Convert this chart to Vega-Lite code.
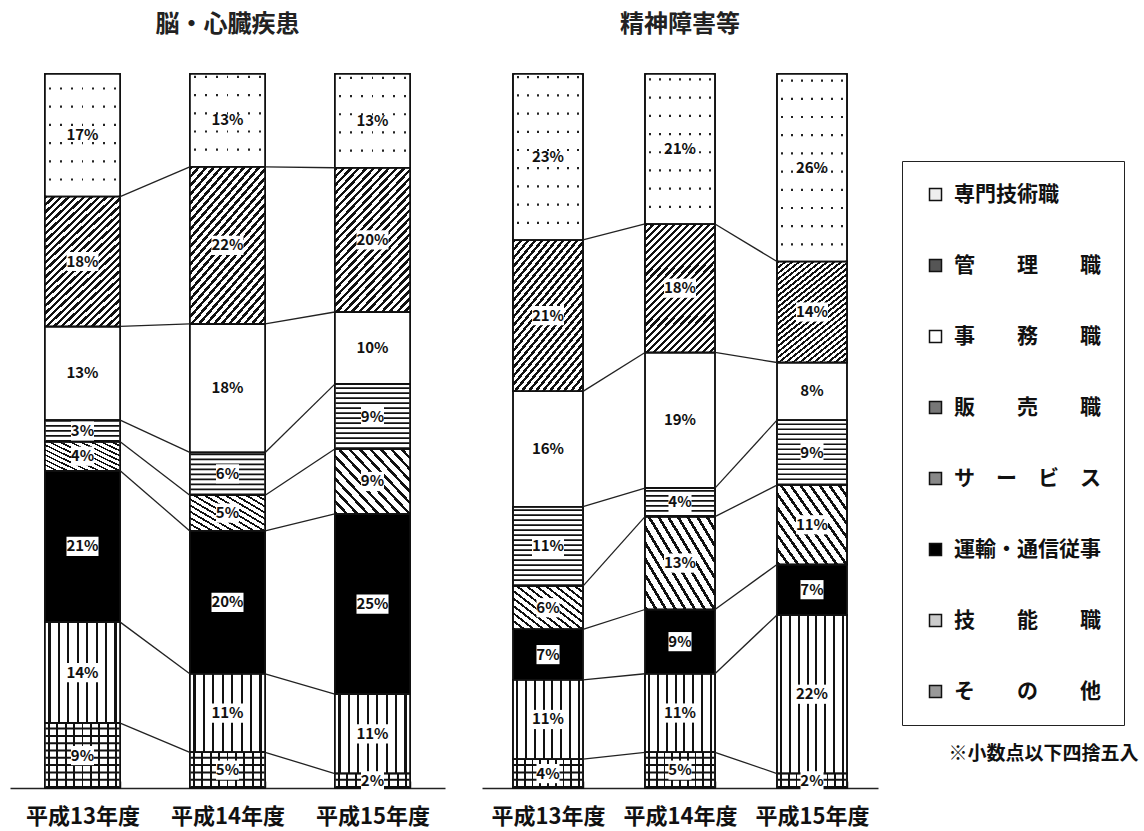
{
  "$schema": "https://vega.github.io/schema/vega-lite/v6.json",
  "background": "white",
  "padding": {"left": 10, "top": 13, "right": 0, "bottom": 4},
  "title": {"text": "※小数点以下四捨五入", "orient": "bottom", "anchor": "end", "frame": "bounds", "fontSize": 19, "fontWeight": "bold", "color": "#111", "dy": -82, "dx": 14, "offset": 0},
  "config": {
    "font": "Noto Sans CJK JP",
    "view": {"stroke": null},
    "concat": {"spacing": 37},
    "axisX": {"domainColor": "#222", "domainWidth": 1.5, "tickColor": "#222", "tickWidth": 1.5, "tickSize": -7, "tickBand": "extent", "labelFontSize": 22, "labelFontWeight": "bold", "labelColor": "#111", "labelPadding": 25, "labelAngle": 0, "title": null, "grid": false}
  },
  "datasets": {
    "jobs": [
      {"panel": "脳・心臓疾患", "year": "平成13年度", "job": "その他", "pct": 9},
      {"panel": "脳・心臓疾患", "year": "平成13年度", "job": "技能職", "pct": 14},
      {"panel": "脳・心臓疾患", "year": "平成13年度", "job": "運輸・通信従事", "pct": 21},
      {"panel": "脳・心臓疾患", "year": "平成13年度", "job": "サービス", "pct": 4},
      {"panel": "脳・心臓疾患", "year": "平成13年度", "job": "販売職", "pct": 3},
      {"panel": "脳・心臓疾患", "year": "平成13年度", "job": "事務職", "pct": 13},
      {"panel": "脳・心臓疾患", "year": "平成13年度", "job": "管理職", "pct": 18},
      {"panel": "脳・心臓疾患", "year": "平成13年度", "job": "専門技術職", "pct": 17},
      {"panel": "脳・心臓疾患", "year": "平成14年度", "job": "その他", "pct": 5},
      {"panel": "脳・心臓疾患", "year": "平成14年度", "job": "技能職", "pct": 11},
      {"panel": "脳・心臓疾患", "year": "平成14年度", "job": "運輸・通信従事", "pct": 20},
      {"panel": "脳・心臓疾患", "year": "平成14年度", "job": "サービス", "pct": 5},
      {"panel": "脳・心臓疾患", "year": "平成14年度", "job": "販売職", "pct": 6},
      {"panel": "脳・心臓疾患", "year": "平成14年度", "job": "事務職", "pct": 18},
      {"panel": "脳・心臓疾患", "year": "平成14年度", "job": "管理職", "pct": 22},
      {"panel": "脳・心臓疾患", "year": "平成14年度", "job": "専門技術職", "pct": 13},
      {"panel": "脳・心臓疾患", "year": "平成15年度", "job": "その他", "pct": 2},
      {"panel": "脳・心臓疾患", "year": "平成15年度", "job": "技能職", "pct": 11},
      {"panel": "脳・心臓疾患", "year": "平成15年度", "job": "運輸・通信従事", "pct": 25},
      {"panel": "脳・心臓疾患", "year": "平成15年度", "job": "サービス", "pct": 9},
      {"panel": "脳・心臓疾患", "year": "平成15年度", "job": "販売職", "pct": 9},
      {"panel": "脳・心臓疾患", "year": "平成15年度", "job": "事務職", "pct": 10},
      {"panel": "脳・心臓疾患", "year": "平成15年度", "job": "管理職", "pct": 20},
      {"panel": "脳・心臓疾患", "year": "平成15年度", "job": "専門技術職", "pct": 13},
      {"panel": "精神障害等", "year": "平成13年度", "job": "その他", "pct": 4},
      {"panel": "精神障害等", "year": "平成13年度", "job": "技能職", "pct": 11},
      {"panel": "精神障害等", "year": "平成13年度", "job": "運輸・通信従事", "pct": 7},
      {"panel": "精神障害等", "year": "平成13年度", "job": "サービス", "pct": 6},
      {"panel": "精神障害等", "year": "平成13年度", "job": "販売職", "pct": 11},
      {"panel": "精神障害等", "year": "平成13年度", "job": "事務職", "pct": 16},
      {"panel": "精神障害等", "year": "平成13年度", "job": "管理職", "pct": 21},
      {"panel": "精神障害等", "year": "平成13年度", "job": "専門技術職", "pct": 23},
      {"panel": "精神障害等", "year": "平成14年度", "job": "その他", "pct": 5},
      {"panel": "精神障害等", "year": "平成14年度", "job": "技能職", "pct": 11},
      {"panel": "精神障害等", "year": "平成14年度", "job": "運輸・通信従事", "pct": 9},
      {"panel": "精神障害等", "year": "平成14年度", "job": "サービス", "pct": 13},
      {"panel": "精神障害等", "year": "平成14年度", "job": "販売職", "pct": 4},
      {"panel": "精神障害等", "year": "平成14年度", "job": "事務職", "pct": 19},
      {"panel": "精神障害等", "year": "平成14年度", "job": "管理職", "pct": 18},
      {"panel": "精神障害等", "year": "平成14年度", "job": "専門技術職", "pct": 21},
      {"panel": "精神障害等", "year": "平成15年度", "job": "その他", "pct": 2},
      {"panel": "精神障害等", "year": "平成15年度", "job": "技能職", "pct": 22},
      {"panel": "精神障害等", "year": "平成15年度", "job": "運輸・通信従事", "pct": 7},
      {"panel": "精神障害等", "year": "平成15年度", "job": "サービス", "pct": 11},
      {"panel": "精神障害等", "year": "平成15年度", "job": "販売職", "pct": 9},
      {"panel": "精神障害等", "year": "平成15年度", "job": "事務職", "pct": 8},
      {"panel": "精神障害等", "year": "平成15年度", "job": "管理職", "pct": 14},
      {"panel": "精神障害等", "year": "平成15年度", "job": "専門技術職", "pct": 26}
    ]
  },
  "data": {"name": "jobs"},
  "transform": [
    {"stack": "pct", "groupby": ["panel", "year"], "offset": "normalize", "as": ["y0", "y1"]},
    {"window": [{"op": "lead", "field": "y1", "as": "ny"}, {"op": "lead", "field": "year", "as": "nyear"}], "groupby": ["panel", "job"], "sort": [{"field": "year", "order": "ascending"}]},
    {"calculate": "(datum.y0 + datum.y1) / 2", "as": "mid"},
    {"calculate": "datum.pct + '%'", "as": "lbl"}
  ],
  "hconcat": [
    {
      "title": {"text": "脳・心臓疾患", "fontSize": 24, "fontWeight": "bold", "color": "#222", "offset": 36},
      "width": 435,
      "height": 714,
      "transform": [{"filter": "datum.panel === '脳・心臓疾患'"}],
      "encoding": {"x": {"field": "year", "type": "nominal", "title": null, "scale": {"paddingInner": 0.48, "paddingOuter": 0.24}}},
      "layer": [
        {
          "encoding": {"y": {"field": "y0", "type": "quantitative", "scale": {"domain": [0, 1], "nice": false}, "axis": null}, "y2": {"field": "y1"}},
          "layer": [
            {"mark": {"type": "bar", "stroke": "#111", "strokeWidth": 1.5}, "encoding": {"color": {"field": "job", "type": "nominal", "scale": {"domain": ["専門技術職", "管理職", "事務職", "販売職", "サービス", "運輸・通信従事", "技能職", "その他"], "range": ["#eeeeee", "#555555", "#ffffff", "#777777", "#888888", "#000000", "#cccccc", "#999999"]}, "legend": {"orient": "none", "legendX": 892, "legendY": 87, "title": null, "strokeColor": "#222", "padding": 23, "rowPadding": 49, "symbolType": "square", "symbolSize": 144, "symbolStrokeColor": "#111", "symbolStrokeWidth": 1.5, "labelFontSize": 21, "labelFontWeight": "bold", "labelColor": "#111", "labelOffset": 8, "labelLimit": 300, "labelExpr": "datum.label === '管理職' ? '管\u3000\u3000理\u3000\u3000職' : datum.label === '事務職' ? '事\u3000\u3000務\u3000\u3000職' : datum.label === '販売職' ? '販\u3000\u3000売\u3000\u3000職' : datum.label === 'サービス' ? 'サ\u3000ー\u3000ビ\u3000ス' : datum.label === '技能職' ? '技\u3000\u3000能\u3000\u3000職' : datum.label === 'その他' ? 'そ\u3000\u3000の\u3000\u3000他' : datum.label"}}}},
            {"transform": [{"filter": "datum.job === '専門技術職'"}], "mark": {"type": "bar", "stroke": "#111", "strokeWidth": 1.5, "fill": {"gradient": "linear", "x1": 0, "y1": 0, "x2": 1, "y2": 0, "stops": [
                {"offset": 0, "color": "#fff"},
                {"offset": 0.0584, "color": "#fff"}, {"offset": 0.0584, "color": "#222"}, {"offset": 0.0844, "color": "#222"}, {"offset": 0.0844, "color": "#fff"},
                {"offset": 0.2013, "color": "#fff"}, {"offset": 0.2013, "color": "#222"}, {"offset": 0.2273, "color": "#222"}, {"offset": 0.2273, "color": "#fff"},
                {"offset": 0.3441, "color": "#fff"}, {"offset": 0.3441, "color": "#222"}, {"offset": 0.3701, "color": "#222"}, {"offset": 0.3701, "color": "#fff"},
                {"offset": 0.487, "color": "#fff"}, {"offset": 0.487, "color": "#222"}, {"offset": 0.513, "color": "#222"}, {"offset": 0.513, "color": "#fff"},
                {"offset": 0.6299, "color": "#fff"}, {"offset": 0.6299, "color": "#222"}, {"offset": 0.6559, "color": "#222"}, {"offset": 0.6559, "color": "#fff"},
                {"offset": 0.7727, "color": "#fff"}, {"offset": 0.7727, "color": "#222"}, {"offset": 0.7987, "color": "#222"}, {"offset": 0.7987, "color": "#fff"},
                {"offset": 0.9156, "color": "#fff"}, {"offset": 0.9156, "color": "#222"}, {"offset": 0.9416, "color": "#222"}, {"offset": 0.9416, "color": "#fff"},
                {"offset": 1, "color": "#fff"}]}}},
            {"transform": [{"filter": "datum.job === '管理職'"}], "mark": {"type": "bar", "stroke": "#111", "strokeWidth": 1.5, "fill": {"gradient": "linear", "x1": 0, "y1": 0, "x2": 0.66, "y2": 1.19, "stops": [
                {"offset": 0, "color": "#111"}, {"offset": 0.016, "color": "#111"}, {"offset": 0.016, "color": "#fff"}, {"offset": 0.0357, "color": "#fff"},
                {"offset": 0.0357, "color": "#111"}, {"offset": 0.0517, "color": "#111"}, {"offset": 0.0517, "color": "#fff"}, {"offset": 0.0714, "color": "#fff"},
                {"offset": 0.0714, "color": "#111"}, {"offset": 0.0874, "color": "#111"}, {"offset": 0.0874, "color": "#fff"}, {"offset": 0.1071, "color": "#fff"},
                {"offset": 0.1071, "color": "#111"}, {"offset": 0.1231, "color": "#111"}, {"offset": 0.1231, "color": "#fff"}, {"offset": 0.1429, "color": "#fff"},
                {"offset": 0.1429, "color": "#111"}, {"offset": 0.1589, "color": "#111"}, {"offset": 0.1589, "color": "#fff"}, {"offset": 0.1786, "color": "#fff"},
                {"offset": 0.1786, "color": "#111"}, {"offset": 0.1946, "color": "#111"}, {"offset": 0.1946, "color": "#fff"}, {"offset": 0.2143, "color": "#fff"},
                {"offset": 0.2143, "color": "#111"}, {"offset": 0.2303, "color": "#111"}, {"offset": 0.2303, "color": "#fff"}, {"offset": 0.25, "color": "#fff"},
                {"offset": 0.25, "color": "#111"}, {"offset": 0.266, "color": "#111"}, {"offset": 0.266, "color": "#fff"}, {"offset": 0.2857, "color": "#fff"},
                {"offset": 0.2857, "color": "#111"}, {"offset": 0.3017, "color": "#111"}, {"offset": 0.3017, "color": "#fff"}, {"offset": 0.3214, "color": "#fff"},
                {"offset": 0.3214, "color": "#111"}, {"offset": 0.3374, "color": "#111"}, {"offset": 0.3374, "color": "#fff"}, {"offset": 0.3571, "color": "#fff"},
                {"offset": 0.3571, "color": "#111"}, {"offset": 0.3731, "color": "#111"}, {"offset": 0.3731, "color": "#fff"}, {"offset": 0.3929, "color": "#fff"},
                {"offset": 0.3929, "color": "#111"}, {"offset": 0.4089, "color": "#111"}, {"offset": 0.4089, "color": "#fff"}, {"offset": 0.4286, "color": "#fff"},
                {"offset": 0.4286, "color": "#111"}, {"offset": 0.4446, "color": "#111"}, {"offset": 0.4446, "color": "#fff"}, {"offset": 0.4643, "color": "#fff"},
                {"offset": 0.4643, "color": "#111"}, {"offset": 0.4803, "color": "#111"}, {"offset": 0.4803, "color": "#fff"}, {"offset": 0.5, "color": "#fff"},
                {"offset": 0.5, "color": "#111"}, {"offset": 0.516, "color": "#111"}, {"offset": 0.516, "color": "#fff"}, {"offset": 0.5357, "color": "#fff"},
                {"offset": 0.5357, "color": "#111"}, {"offset": 0.5517, "color": "#111"}, {"offset": 0.5517, "color": "#fff"}, {"offset": 0.5714, "color": "#fff"},
                {"offset": 0.5714, "color": "#111"}, {"offset": 0.5874, "color": "#111"}, {"offset": 0.5874, "color": "#fff"}, {"offset": 0.6071, "color": "#fff"},
                {"offset": 0.6071, "color": "#111"}, {"offset": 0.6231, "color": "#111"}, {"offset": 0.6231, "color": "#fff"}, {"offset": 0.6429, "color": "#fff"},
                {"offset": 0.6429, "color": "#111"}, {"offset": 0.6589, "color": "#111"}, {"offset": 0.6589, "color": "#fff"}, {"offset": 0.6786, "color": "#fff"},
                {"offset": 0.6786, "color": "#111"}, {"offset": 0.6946, "color": "#111"}, {"offset": 0.6946, "color": "#fff"}, {"offset": 0.7143, "color": "#fff"},
                {"offset": 0.7143, "color": "#111"}, {"offset": 0.7303, "color": "#111"}, {"offset": 0.7303, "color": "#fff"}, {"offset": 0.75, "color": "#fff"},
                {"offset": 0.75, "color": "#111"}, {"offset": 0.766, "color": "#111"}, {"offset": 0.766, "color": "#fff"}, {"offset": 0.7857, "color": "#fff"},
                {"offset": 0.7857, "color": "#111"}, {"offset": 0.8017, "color": "#111"}, {"offset": 0.8017, "color": "#fff"}, {"offset": 0.8214, "color": "#fff"},
                {"offset": 0.8214, "color": "#111"}, {"offset": 0.8374, "color": "#111"}, {"offset": 0.8374, "color": "#fff"}, {"offset": 0.8571, "color": "#fff"},
                {"offset": 0.8571, "color": "#111"}, {"offset": 0.8731, "color": "#111"}, {"offset": 0.8731, "color": "#fff"}, {"offset": 0.8929, "color": "#fff"},
                {"offset": 0.8929, "color": "#111"}, {"offset": 0.9089, "color": "#111"}, {"offset": 0.9089, "color": "#fff"}, {"offset": 0.9286, "color": "#fff"},
                {"offset": 0.9286, "color": "#111"}, {"offset": 0.9446, "color": "#111"}, {"offset": 0.9446, "color": "#fff"}, {"offset": 0.9643, "color": "#fff"},
                {"offset": 0.9643, "color": "#111"}, {"offset": 0.9803, "color": "#111"}, {"offset": 0.9803, "color": "#fff"}, {"offset": 1, "color": "#fff"}]}}},
            {"transform": [{"filter": "datum.job === '販売職'"}], "mark": {"type": "bar", "stroke": "#111", "strokeWidth": 1.5, "fill": "#ffffff"}},
            {"transform": [{"filter": "datum.job === 'サービス'"}], "mark": {"type": "bar", "stroke": "#111", "strokeWidth": 1.5, "fill": {"gradient": "linear", "x1": 0, "y1": 1, "x2": 1.098, "y2": 0.122, "stops": [
                {"offset": 0, "color": "#111"}, {"offset": 0.0254, "color": "#111"}, {"offset": 0.0254, "color": "#fff"}, {"offset": 0.0769, "color": "#fff"},
                {"offset": 0.0769, "color": "#111"}, {"offset": 0.1023, "color": "#111"}, {"offset": 0.1023, "color": "#fff"}, {"offset": 0.1538, "color": "#fff"},
                {"offset": 0.1538, "color": "#111"}, {"offset": 0.1792, "color": "#111"}, {"offset": 0.1792, "color": "#fff"}, {"offset": 0.2308, "color": "#fff"},
                {"offset": 0.2308, "color": "#111"}, {"offset": 0.2562, "color": "#111"}, {"offset": 0.2562, "color": "#fff"}, {"offset": 0.3077, "color": "#fff"},
                {"offset": 0.3077, "color": "#111"}, {"offset": 0.3331, "color": "#111"}, {"offset": 0.3331, "color": "#fff"}, {"offset": 0.3846, "color": "#fff"},
                {"offset": 0.3846, "color": "#111"}, {"offset": 0.41, "color": "#111"}, {"offset": 0.41, "color": "#fff"}, {"offset": 0.4615, "color": "#fff"},
                {"offset": 0.4615, "color": "#111"}, {"offset": 0.4869, "color": "#111"}, {"offset": 0.4869, "color": "#fff"}, {"offset": 0.5385, "color": "#fff"},
                {"offset": 0.5385, "color": "#111"}, {"offset": 0.5639, "color": "#111"}, {"offset": 0.5639, "color": "#fff"}, {"offset": 0.6154, "color": "#fff"},
                {"offset": 0.6154, "color": "#111"}, {"offset": 0.6408, "color": "#111"}, {"offset": 0.6408, "color": "#fff"}, {"offset": 0.6923, "color": "#fff"},
                {"offset": 0.6923, "color": "#111"}, {"offset": 0.7177, "color": "#111"}, {"offset": 0.7177, "color": "#fff"}, {"offset": 0.7692, "color": "#fff"},
                {"offset": 0.7692, "color": "#111"}, {"offset": 0.7946, "color": "#111"}, {"offset": 0.7946, "color": "#fff"}, {"offset": 0.8462, "color": "#fff"},
                {"offset": 0.8462, "color": "#111"}, {"offset": 0.8716, "color": "#111"}, {"offset": 0.8716, "color": "#fff"}, {"offset": 0.9231, "color": "#fff"},
                {"offset": 0.9231, "color": "#111"}, {"offset": 0.9485, "color": "#111"}, {"offset": 0.9485, "color": "#fff"}, {"offset": 1, "color": "#fff"}]}}},
            {"transform": [{"filter": "datum.job === '技能職'"}], "mark": {"type": "bar", "stroke": "#111", "strokeWidth": 1.5, "fill": {"gradient": "linear", "x1": 0, "y1": 0, "x2": 1, "y2": 0, "stops": [
                {"offset": 0, "color": "#fff"},
                {"offset": 0.0485, "color": "#fff"}, {"offset": 0.0485, "color": "#111"}, {"offset": 0.0765, "color": "#111"}, {"offset": 0.0765, "color": "#fff"},
                {"offset": 0.1735, "color": "#fff"}, {"offset": 0.1735, "color": "#111"}, {"offset": 0.2015, "color": "#111"}, {"offset": 0.2015, "color": "#fff"},
                {"offset": 0.2985, "color": "#fff"}, {"offset": 0.2985, "color": "#111"}, {"offset": 0.3265, "color": "#111"}, {"offset": 0.3265, "color": "#fff"},
                {"offset": 0.4235, "color": "#fff"}, {"offset": 0.4235, "color": "#111"}, {"offset": 0.4515, "color": "#111"}, {"offset": 0.4515, "color": "#fff"},
                {"offset": 0.5485, "color": "#fff"}, {"offset": 0.5485, "color": "#111"}, {"offset": 0.5765, "color": "#111"}, {"offset": 0.5765, "color": "#fff"},
                {"offset": 0.6735, "color": "#fff"}, {"offset": 0.6735, "color": "#111"}, {"offset": 0.7015, "color": "#111"}, {"offset": 0.7015, "color": "#fff"},
                {"offset": 0.7985, "color": "#fff"}, {"offset": 0.7985, "color": "#111"}, {"offset": 0.8265, "color": "#111"}, {"offset": 0.8265, "color": "#fff"},
                {"offset": 0.9235, "color": "#fff"}, {"offset": 0.9235, "color": "#111"}, {"offset": 0.9515, "color": "#111"}, {"offset": 0.9515, "color": "#fff"},
                {"offset": 1, "color": "#fff"}]}}},
            {"transform": [{"filter": "datum.job === 'その他'"}], "mark": {"type": "bar", "stroke": "#111", "strokeWidth": 1.5, "fill": {"gradient": "linear", "x1": 0, "y1": 0, "x2": 1, "y2": 0, "stops": [
                {"offset": 0, "color": "#fff"},
                {"offset": 0.0426, "color": "#fff"}, {"offset": 0.0426, "color": "#111"}, {"offset": 0.0686, "color": "#111"}, {"offset": 0.0686, "color": "#fff"},
                {"offset": 0.1537, "color": "#fff"}, {"offset": 0.1537, "color": "#111"}, {"offset": 0.1797, "color": "#111"}, {"offset": 0.1797, "color": "#fff"},
                {"offset": 0.2648, "color": "#fff"}, {"offset": 0.2648, "color": "#111"}, {"offset": 0.2908, "color": "#111"}, {"offset": 0.2908, "color": "#fff"},
                {"offset": 0.3759, "color": "#fff"}, {"offset": 0.3759, "color": "#111"}, {"offset": 0.4019, "color": "#111"}, {"offset": 0.4019, "color": "#fff"},
                {"offset": 0.487, "color": "#fff"}, {"offset": 0.487, "color": "#111"}, {"offset": 0.513, "color": "#111"}, {"offset": 0.513, "color": "#fff"},
                {"offset": 0.5981, "color": "#fff"}, {"offset": 0.5981, "color": "#111"}, {"offset": 0.6241, "color": "#111"}, {"offset": 0.6241, "color": "#fff"},
                {"offset": 0.7092, "color": "#fff"}, {"offset": 0.7092, "color": "#111"}, {"offset": 0.7352, "color": "#111"}, {"offset": 0.7352, "color": "#fff"},
                {"offset": 0.8203, "color": "#fff"}, {"offset": 0.8203, "color": "#111"}, {"offset": 0.8463, "color": "#111"}, {"offset": 0.8463, "color": "#fff"},
                {"offset": 0.9314, "color": "#fff"}, {"offset": 0.9314, "color": "#111"}, {"offset": 0.9574, "color": "#111"}, {"offset": 0.9574, "color": "#fff"},
                {"offset": 1, "color": "#fff"}]}}},
            {"transform": [{"filter": "datum.job === '専門技術職'"}], "mark": {"type": "rule", "clip": true, "stroke": "#ffffff", "strokeWidth": 72.5, "strokeDash": [16, 2.2]}},
            {"transform": [{"filter": "datum.job === '販売職'"}], "mark": {"type": "rule", "clip": true, "stroke": "#111", "strokeWidth": 74, "strokeDash": [1.7, 3.3]}},
            {"transform": [{"filter": "datum.job === 'その他'"}], "mark": {"type": "rule", "clip": true, "stroke": "#111", "strokeWidth": 74, "strokeDash": [2, 5.3]}},
            {"mark": {"type": "bar", "filled": false, "stroke": "#111", "strokeWidth": 1.5}}
          ]
        },
        {
          "transform": [{"filter": "datum.nyear != null && datum.y1 < 0.999"}],
          "mark": {"type": "rule", "stroke": "#222", "strokeWidth": 1.3},
          "encoding": {"x": {"field": "year", "type": "nominal", "bandPosition": 1}, "x2": {"field": "nyear", "bandPosition": 0}, "y": {"field": "y1", "type": "quantitative", "axis": null}, "y2": {"field": "ny"}}
        },
        {
          "transform": [{"filter": "datum.job !== '専門技術職' && datum.job !== '事務職'"}],
          "mark": {"type": "point", "filled": true, "fill": "white", "strokeWidth": 0, "opacity": 1},
          "encoding": {"y": {"field": "mid", "type": "quantitative", "axis": null}, "shape": {"condition": {"test": "datum.pct < 10", "value": "M-0.72,-0.6H0.72V0.6H-0.72Z"}, "value": "M-1,-0.6H1V0.6H-1Z"}, "size": {"value": 1024}}
        },
        {
          "mark": {"type": "text", "fontSize": 15, "fontWeight": "bold", "fill": "#111"},
          "encoding": {"y": {"field": "mid", "type": "quantitative", "axis": null}, "text": {"field": "lbl"}}
        }
      ]
    },
    {
      "title": {"text": "精神障害等", "fontSize": 24, "fontWeight": "bold", "color": "#222", "offset": 36},
      "width": 396,
      "height": 714,
      "transform": [{"filter": "datum.panel === '精神障害等'"}],
      "encoding": {"x": {"field": "year", "type": "nominal", "title": null, "scale": {"paddingInner": 0.47, "paddingOuter": 0.235}}},
      "layer": [
        {
          "encoding": {"y": {"field": "y0", "type": "quantitative", "scale": {"domain": [0, 1], "nice": false}, "axis": null}, "y2": {"field": "y1"}},
          "layer": [
            {"mark": {"type": "bar", "stroke": "#111", "strokeWidth": 1.5}, "encoding": {"color": {"field": "job", "type": "nominal"}}},
            {"transform": [{"filter": "datum.job === '専門技術職'"}], "mark": {"type": "bar", "stroke": "#111", "strokeWidth": 1.5, "fill": {"gradient": "linear", "x1": 0, "y1": 0, "x2": 1, "y2": 0, "stops": [
                {"offset": 0, "color": "#fff"},
                {"offset": 0.0584, "color": "#fff"}, {"offset": 0.0584, "color": "#222"}, {"offset": 0.0844, "color": "#222"}, {"offset": 0.0844, "color": "#fff"},
                {"offset": 0.2013, "color": "#fff"}, {"offset": 0.2013, "color": "#222"}, {"offset": 0.2273, "color": "#222"}, {"offset": 0.2273, "color": "#fff"},
                {"offset": 0.3441, "color": "#fff"}, {"offset": 0.3441, "color": "#222"}, {"offset": 0.3701, "color": "#222"}, {"offset": 0.3701, "color": "#fff"},
                {"offset": 0.487, "color": "#fff"}, {"offset": 0.487, "color": "#222"}, {"offset": 0.513, "color": "#222"}, {"offset": 0.513, "color": "#fff"},
                {"offset": 0.6299, "color": "#fff"}, {"offset": 0.6299, "color": "#222"}, {"offset": 0.6559, "color": "#222"}, {"offset": 0.6559, "color": "#fff"},
                {"offset": 0.7727, "color": "#fff"}, {"offset": 0.7727, "color": "#222"}, {"offset": 0.7987, "color": "#222"}, {"offset": 0.7987, "color": "#fff"},
                {"offset": 0.9156, "color": "#fff"}, {"offset": 0.9156, "color": "#222"}, {"offset": 0.9416, "color": "#222"}, {"offset": 0.9416, "color": "#fff"},
                {"offset": 1, "color": "#fff"}]}}},
            {"transform": [{"filter": "datum.job === '管理職'"}], "mark": {"type": "bar", "stroke": "#111", "strokeWidth": 1.5, "fill": {"gradient": "linear", "x1": 0, "y1": 0, "x2": 0.66, "y2": 1.19, "stops": [
                {"offset": 0, "color": "#111"}, {"offset": 0.016, "color": "#111"}, {"offset": 0.016, "color": "#fff"}, {"offset": 0.0357, "color": "#fff"},
                {"offset": 0.0357, "color": "#111"}, {"offset": 0.0517, "color": "#111"}, {"offset": 0.0517, "color": "#fff"}, {"offset": 0.0714, "color": "#fff"},
                {"offset": 0.0714, "color": "#111"}, {"offset": 0.0874, "color": "#111"}, {"offset": 0.0874, "color": "#fff"}, {"offset": 0.1071, "color": "#fff"},
                {"offset": 0.1071, "color": "#111"}, {"offset": 0.1231, "color": "#111"}, {"offset": 0.1231, "color": "#fff"}, {"offset": 0.1429, "color": "#fff"},
                {"offset": 0.1429, "color": "#111"}, {"offset": 0.1589, "color": "#111"}, {"offset": 0.1589, "color": "#fff"}, {"offset": 0.1786, "color": "#fff"},
                {"offset": 0.1786, "color": "#111"}, {"offset": 0.1946, "color": "#111"}, {"offset": 0.1946, "color": "#fff"}, {"offset": 0.2143, "color": "#fff"},
                {"offset": 0.2143, "color": "#111"}, {"offset": 0.2303, "color": "#111"}, {"offset": 0.2303, "color": "#fff"}, {"offset": 0.25, "color": "#fff"},
                {"offset": 0.25, "color": "#111"}, {"offset": 0.266, "color": "#111"}, {"offset": 0.266, "color": "#fff"}, {"offset": 0.2857, "color": "#fff"},
                {"offset": 0.2857, "color": "#111"}, {"offset": 0.3017, "color": "#111"}, {"offset": 0.3017, "color": "#fff"}, {"offset": 0.3214, "color": "#fff"},
                {"offset": 0.3214, "color": "#111"}, {"offset": 0.3374, "color": "#111"}, {"offset": 0.3374, "color": "#fff"}, {"offset": 0.3571, "color": "#fff"},
                {"offset": 0.3571, "color": "#111"}, {"offset": 0.3731, "color": "#111"}, {"offset": 0.3731, "color": "#fff"}, {"offset": 0.3929, "color": "#fff"},
                {"offset": 0.3929, "color": "#111"}, {"offset": 0.4089, "color": "#111"}, {"offset": 0.4089, "color": "#fff"}, {"offset": 0.4286, "color": "#fff"},
                {"offset": 0.4286, "color": "#111"}, {"offset": 0.4446, "color": "#111"}, {"offset": 0.4446, "color": "#fff"}, {"offset": 0.4643, "color": "#fff"},
                {"offset": 0.4643, "color": "#111"}, {"offset": 0.4803, "color": "#111"}, {"offset": 0.4803, "color": "#fff"}, {"offset": 0.5, "color": "#fff"},
                {"offset": 0.5, "color": "#111"}, {"offset": 0.516, "color": "#111"}, {"offset": 0.516, "color": "#fff"}, {"offset": 0.5357, "color": "#fff"},
                {"offset": 0.5357, "color": "#111"}, {"offset": 0.5517, "color": "#111"}, {"offset": 0.5517, "color": "#fff"}, {"offset": 0.5714, "color": "#fff"},
                {"offset": 0.5714, "color": "#111"}, {"offset": 0.5874, "color": "#111"}, {"offset": 0.5874, "color": "#fff"}, {"offset": 0.6071, "color": "#fff"},
                {"offset": 0.6071, "color": "#111"}, {"offset": 0.6231, "color": "#111"}, {"offset": 0.6231, "color": "#fff"}, {"offset": 0.6429, "color": "#fff"},
                {"offset": 0.6429, "color": "#111"}, {"offset": 0.6589, "color": "#111"}, {"offset": 0.6589, "color": "#fff"}, {"offset": 0.6786, "color": "#fff"},
                {"offset": 0.6786, "color": "#111"}, {"offset": 0.6946, "color": "#111"}, {"offset": 0.6946, "color": "#fff"}, {"offset": 0.7143, "color": "#fff"},
                {"offset": 0.7143, "color": "#111"}, {"offset": 0.7303, "color": "#111"}, {"offset": 0.7303, "color": "#fff"}, {"offset": 0.75, "color": "#fff"},
                {"offset": 0.75, "color": "#111"}, {"offset": 0.766, "color": "#111"}, {"offset": 0.766, "color": "#fff"}, {"offset": 0.7857, "color": "#fff"},
                {"offset": 0.7857, "color": "#111"}, {"offset": 0.8017, "color": "#111"}, {"offset": 0.8017, "color": "#fff"}, {"offset": 0.8214, "color": "#fff"},
                {"offset": 0.8214, "color": "#111"}, {"offset": 0.8374, "color": "#111"}, {"offset": 0.8374, "color": "#fff"}, {"offset": 0.8571, "color": "#fff"},
                {"offset": 0.8571, "color": "#111"}, {"offset": 0.8731, "color": "#111"}, {"offset": 0.8731, "color": "#fff"}, {"offset": 0.8929, "color": "#fff"},
                {"offset": 0.8929, "color": "#111"}, {"offset": 0.9089, "color": "#111"}, {"offset": 0.9089, "color": "#fff"}, {"offset": 0.9286, "color": "#fff"},
                {"offset": 0.9286, "color": "#111"}, {"offset": 0.9446, "color": "#111"}, {"offset": 0.9446, "color": "#fff"}, {"offset": 0.9643, "color": "#fff"},
                {"offset": 0.9643, "color": "#111"}, {"offset": 0.9803, "color": "#111"}, {"offset": 0.9803, "color": "#fff"}, {"offset": 1, "color": "#fff"}]}}},
            {"transform": [{"filter": "datum.job === '販売職'"}], "mark": {"type": "bar", "stroke": "#111", "strokeWidth": 1.5, "fill": "#ffffff"}},
            {"transform": [{"filter": "datum.job === 'サービス'"}], "mark": {"type": "bar", "stroke": "#111", "strokeWidth": 1.5, "fill": {"gradient": "linear", "x1": 0, "y1": 1, "x2": 1.098, "y2": 0.122, "stops": [
                {"offset": 0, "color": "#111"}, {"offset": 0.0254, "color": "#111"}, {"offset": 0.0254, "color": "#fff"}, {"offset": 0.0769, "color": "#fff"},
                {"offset": 0.0769, "color": "#111"}, {"offset": 0.1023, "color": "#111"}, {"offset": 0.1023, "color": "#fff"}, {"offset": 0.1538, "color": "#fff"},
                {"offset": 0.1538, "color": "#111"}, {"offset": 0.1792, "color": "#111"}, {"offset": 0.1792, "color": "#fff"}, {"offset": 0.2308, "color": "#fff"},
                {"offset": 0.2308, "color": "#111"}, {"offset": 0.2562, "color": "#111"}, {"offset": 0.2562, "color": "#fff"}, {"offset": 0.3077, "color": "#fff"},
                {"offset": 0.3077, "color": "#111"}, {"offset": 0.3331, "color": "#111"}, {"offset": 0.3331, "color": "#fff"}, {"offset": 0.3846, "color": "#fff"},
                {"offset": 0.3846, "color": "#111"}, {"offset": 0.41, "color": "#111"}, {"offset": 0.41, "color": "#fff"}, {"offset": 0.4615, "color": "#fff"},
                {"offset": 0.4615, "color": "#111"}, {"offset": 0.4869, "color": "#111"}, {"offset": 0.4869, "color": "#fff"}, {"offset": 0.5385, "color": "#fff"},
                {"offset": 0.5385, "color": "#111"}, {"offset": 0.5639, "color": "#111"}, {"offset": 0.5639, "color": "#fff"}, {"offset": 0.6154, "color": "#fff"},
                {"offset": 0.6154, "color": "#111"}, {"offset": 0.6408, "color": "#111"}, {"offset": 0.6408, "color": "#fff"}, {"offset": 0.6923, "color": "#fff"},
                {"offset": 0.6923, "color": "#111"}, {"offset": 0.7177, "color": "#111"}, {"offset": 0.7177, "color": "#fff"}, {"offset": 0.7692, "color": "#fff"},
                {"offset": 0.7692, "color": "#111"}, {"offset": 0.7946, "color": "#111"}, {"offset": 0.7946, "color": "#fff"}, {"offset": 0.8462, "color": "#fff"},
                {"offset": 0.8462, "color": "#111"}, {"offset": 0.8716, "color": "#111"}, {"offset": 0.8716, "color": "#fff"}, {"offset": 0.9231, "color": "#fff"},
                {"offset": 0.9231, "color": "#111"}, {"offset": 0.9485, "color": "#111"}, {"offset": 0.9485, "color": "#fff"}, {"offset": 1, "color": "#fff"}]}}},
            {"transform": [{"filter": "datum.job === '技能職'"}], "mark": {"type": "bar", "stroke": "#111", "strokeWidth": 1.5, "fill": {"gradient": "linear", "x1": 0, "y1": 0, "x2": 1, "y2": 0, "stops": [
                {"offset": 0, "color": "#fff"},
                {"offset": 0.0485, "color": "#fff"}, {"offset": 0.0485, "color": "#111"}, {"offset": 0.0765, "color": "#111"}, {"offset": 0.0765, "color": "#fff"},
                {"offset": 0.1735, "color": "#fff"}, {"offset": 0.1735, "color": "#111"}, {"offset": 0.2015, "color": "#111"}, {"offset": 0.2015, "color": "#fff"},
                {"offset": 0.2985, "color": "#fff"}, {"offset": 0.2985, "color": "#111"}, {"offset": 0.3265, "color": "#111"}, {"offset": 0.3265, "color": "#fff"},
                {"offset": 0.4235, "color": "#fff"}, {"offset": 0.4235, "color": "#111"}, {"offset": 0.4515, "color": "#111"}, {"offset": 0.4515, "color": "#fff"},
                {"offset": 0.5485, "color": "#fff"}, {"offset": 0.5485, "color": "#111"}, {"offset": 0.5765, "color": "#111"}, {"offset": 0.5765, "color": "#fff"},
                {"offset": 0.6735, "color": "#fff"}, {"offset": 0.6735, "color": "#111"}, {"offset": 0.7015, "color": "#111"}, {"offset": 0.7015, "color": "#fff"},
                {"offset": 0.7985, "color": "#fff"}, {"offset": 0.7985, "color": "#111"}, {"offset": 0.8265, "color": "#111"}, {"offset": 0.8265, "color": "#fff"},
                {"offset": 0.9235, "color": "#fff"}, {"offset": 0.9235, "color": "#111"}, {"offset": 0.9515, "color": "#111"}, {"offset": 0.9515, "color": "#fff"},
                {"offset": 1, "color": "#fff"}]}}},
            {"transform": [{"filter": "datum.job === 'その他'"}], "mark": {"type": "bar", "stroke": "#111", "strokeWidth": 1.5, "fill": {"gradient": "linear", "x1": 0, "y1": 0, "x2": 1, "y2": 0, "stops": [
                {"offset": 0, "color": "#fff"},
                {"offset": 0.0426, "color": "#fff"}, {"offset": 0.0426, "color": "#111"}, {"offset": 0.0686, "color": "#111"}, {"offset": 0.0686, "color": "#fff"},
                {"offset": 0.1537, "color": "#fff"}, {"offset": 0.1537, "color": "#111"}, {"offset": 0.1797, "color": "#111"}, {"offset": 0.1797, "color": "#fff"},
                {"offset": 0.2648, "color": "#fff"}, {"offset": 0.2648, "color": "#111"}, {"offset": 0.2908, "color": "#111"}, {"offset": 0.2908, "color": "#fff"},
                {"offset": 0.3759, "color": "#fff"}, {"offset": 0.3759, "color": "#111"}, {"offset": 0.4019, "color": "#111"}, {"offset": 0.4019, "color": "#fff"},
                {"offset": 0.487, "color": "#fff"}, {"offset": 0.487, "color": "#111"}, {"offset": 0.513, "color": "#111"}, {"offset": 0.513, "color": "#fff"},
                {"offset": 0.5981, "color": "#fff"}, {"offset": 0.5981, "color": "#111"}, {"offset": 0.6241, "color": "#111"}, {"offset": 0.6241, "color": "#fff"},
                {"offset": 0.7092, "color": "#fff"}, {"offset": 0.7092, "color": "#111"}, {"offset": 0.7352, "color": "#111"}, {"offset": 0.7352, "color": "#fff"},
                {"offset": 0.8203, "color": "#fff"}, {"offset": 0.8203, "color": "#111"}, {"offset": 0.8463, "color": "#111"}, {"offset": 0.8463, "color": "#fff"},
                {"offset": 0.9314, "color": "#fff"}, {"offset": 0.9314, "color": "#111"}, {"offset": 0.9574, "color": "#111"}, {"offset": 0.9574, "color": "#fff"},
                {"offset": 1, "color": "#fff"}]}}},
            {"transform": [{"filter": "datum.job === '専門技術職'"}], "mark": {"type": "rule", "clip": true, "stroke": "#ffffff", "strokeWidth": 67, "strokeDash": [16, 2.2]}},
            {"transform": [{"filter": "datum.job === '販売職'"}], "mark": {"type": "rule", "clip": true, "stroke": "#111", "strokeWidth": 68.5, "strokeDash": [1.7, 3.3]}},
            {"transform": [{"filter": "datum.job === 'その他'"}], "mark": {"type": "rule", "clip": true, "stroke": "#111", "strokeWidth": 68.5, "strokeDash": [2, 5.3]}},
            {"mark": {"type": "bar", "filled": false, "stroke": "#111", "strokeWidth": 1.5}}
          ]
        },
        {
          "transform": [{"filter": "datum.nyear != null && datum.y1 < 0.999"}],
          "mark": {"type": "rule", "stroke": "#222", "strokeWidth": 1.3},
          "encoding": {"x": {"field": "year", "type": "nominal", "bandPosition": 1}, "x2": {"field": "nyear", "bandPosition": 0}, "y": {"field": "y1", "type": "quantitative", "axis": null}, "y2": {"field": "ny"}}
        },
        {
          "transform": [{"filter": "datum.job !== '専門技術職' && datum.job !== '事務職'"}],
          "mark": {"type": "point", "filled": true, "fill": "white", "strokeWidth": 0, "opacity": 1},
          "encoding": {"y": {"field": "mid", "type": "quantitative", "axis": null}, "shape": {"condition": {"test": "datum.pct < 10", "value": "M-0.72,-0.6H0.72V0.6H-0.72Z"}, "value": "M-1,-0.6H1V0.6H-1Z"}, "size": {"value": 1024}}
        },
        {
          "mark": {"type": "text", "fontSize": 15, "fontWeight": "bold", "fill": "#111"},
          "encoding": {"y": {"field": "mid", "type": "quantitative", "axis": null}, "text": {"field": "lbl"}}
        }
      ]
    }
  ]
}
